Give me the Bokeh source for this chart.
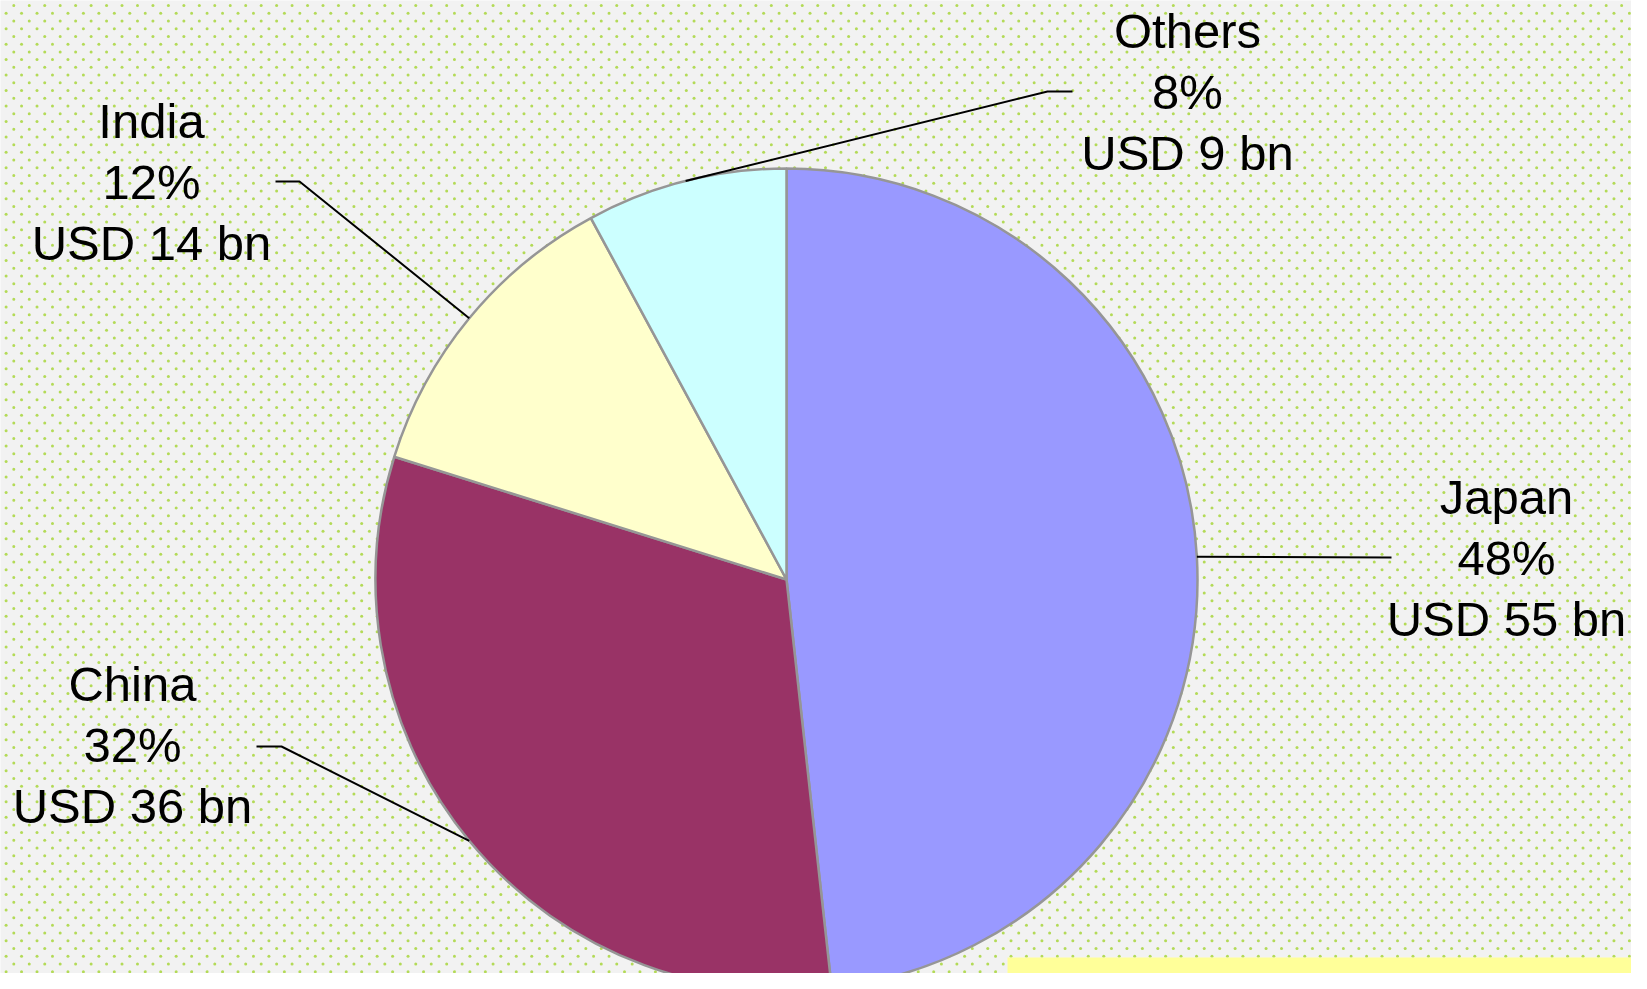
import numpy as np
from bokeh.plotting import figure
from bokeh.models import Range1d, ColumnDataSource
from bokeh.core.properties import value
from bokeh.embed import file_html
from bokeh.resources import INLINE

# ---------------- data ----------------
countries = ["Japan", "China", "India", "Others"]
shares_pct = [48, 32, 12, 8]
values_bn = [55, 36, 14, 9]
slice_colors = ["#9999FF", "#993366", "#FFFFCC", "#CCFFFF"]
total_label = "Total Size: US $ 114 Bn"

# ---------------- layout (pixel coordinates from top-left) ----------------
W, H = 1631, 973
def dy(Y):
    return H - Y

CX, CY, R = 786, 579, 411
label_x = [1506, 132, 151, 1187]
label_base = [496, 683, 120, 30]
LINE_GAP = 61
elbow_pts = [(1391, 557), (281, 746), (299, 181), (1047, 91)]
end_pts = [(1391, 557), (256, 746), (275, 181), (1072, 91)]

p = figure(width=W, height=H, x_range=Range1d(0, W), y_range=Range1d(0, H),
           output_backend="svg", toolbar_location=None, min_border=0)
p.axis.visible = False
p.grid.visible = False
p.outline_line_color = None
p.background_fill_color = "#f2f2f2"
p.border_fill_color = "#f2f2f2"

# dotted background texture
dxs, dys = [], []
for j in range(-1, 130):
    Yr = 5 + j * 7.73
    x0 = 13.3 - (j % 2) * 7.7
    xs = x0 + 15.46 * np.arange(-1, 110)
    dxs.extend(xs.tolist())
    dys.extend([dy(Yr)] * len(xs))
p.scatter(dxs, dys, size=3, marker="circle", fill_color="#a8d63c", line_color=None, fill_alpha=0.85)

# pie
vals = np.array(values_bn, dtype=float)
frac = vals / vals.sum()
cum = np.concatenate([[0], np.cumsum(frac)])
start = np.pi / 2 - 2 * np.pi * cum[:-1]
end = np.pi / 2 - 2 * np.pi * cum[1:]
src = ColumnDataSource(dict(start=start, end=end, color=slice_colors, name=countries))
p.wedge(x=CX, y=dy(CY), radius=R, start_angle="start", end_angle="end", direction="clock",
        fill_color="color", line_color="#969696", line_width=2.5, source=src)

# leader lines
mid = (start + end) / 2
lx, ly = [], []
for k in range(len(countries)):
    sx = CX + R * np.cos(mid[k])
    sy = dy(CY) + R * np.sin(mid[k])
    lx.append([sx, elbow_pts[k][0], end_pts[k][0]])
    ly.append([sy, dy(elbow_pts[k][1]), dy(end_pts[k][1])])
p.multi_line(lx, ly, line_color="black", line_width=2)

# labels
tx, ty, tt = [], [], []
for k in range(len(countries)):
    lines = [countries[k], f"{shares_pct[k]}%", f"USD {values_bn[k]} bn"]
    for i, s in enumerate(lines):
        tx.append(label_x[k])
        ty.append(dy(label_base[k] + i * LINE_GAP))
        tt.append(s)
p.text(tx, ty, text=tt, text_font=value("Liberation Sans"), text_font_size="49px",
       text_align="center", text_baseline="alphabetic", text_color="black")

# total box
p.quad(left=[1007], right=[1800], top=[dy(957)], bottom=[dy(1100)], fill_color="#FFFF99", line_color=None)
p.text([1017], [dy(1007)], text=[total_label], text_font=value("Liberation Sans"), text_font_size="58px",
       text_font_style="bold", text_align="left", text_baseline="alphabetic", text_color="black")

open("out.html", "w").write(file_html(p, INLINE))
